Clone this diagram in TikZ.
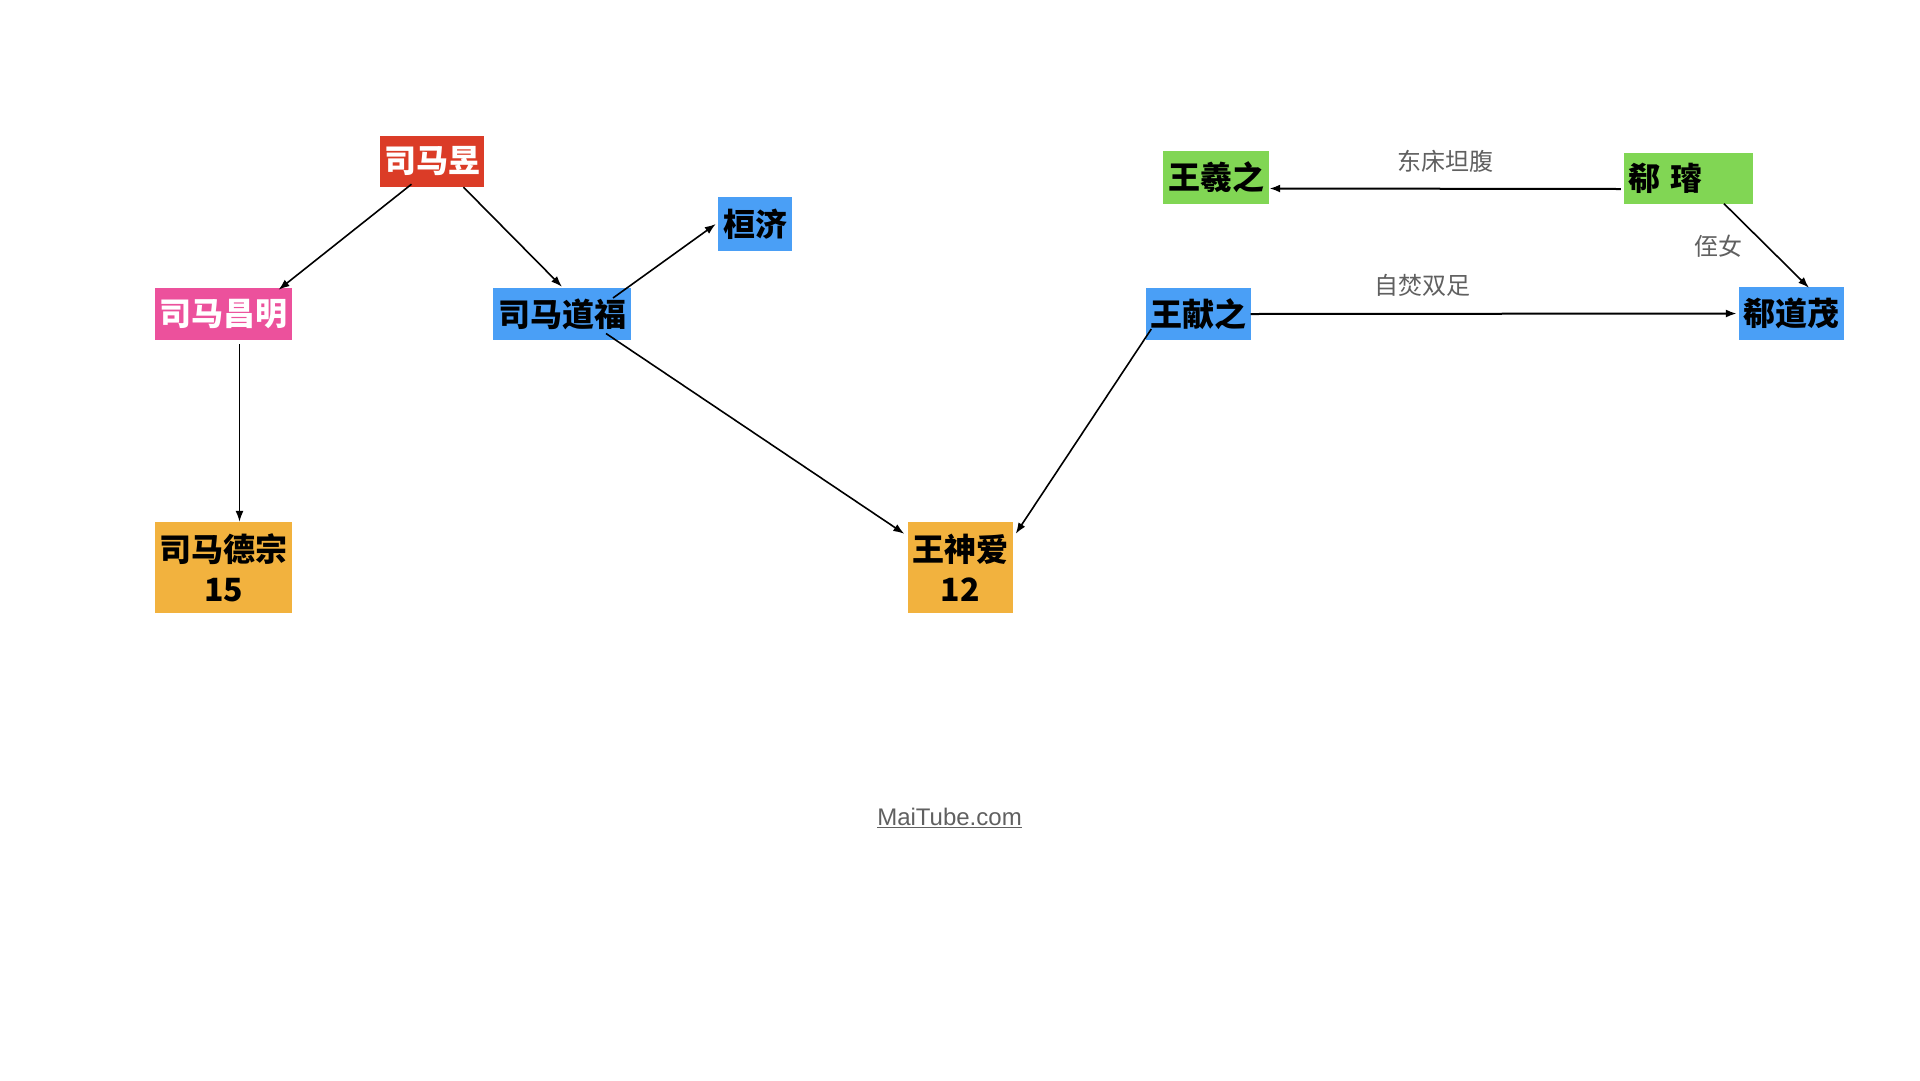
\documentclass[tikz,border=0pt]{standalone}
\usepackage{fontspec}
\setmainfont{Liberation Sans}
\newfontfamily\cjk{Noto Sans CJK SC}
\usepackage{xcolor}
\usetikzlibrary{arrows.meta}
\definecolor{boxred}{HTML}{DB3C27}
\definecolor{boxpink}{HTML}{EC519C}
\definecolor{boxblue}{HTML}{4A9FF6}
\definecolor{boxorange}{HTML}{F2B23E}
\definecolor{boxgreen}{HTML}{81D654}
\definecolor{notegray}{HTML}{606060}

\begin{document}
\begin{tikzpicture}[x=1pt,y=-1pt,
	person/.style={inner sep=0pt, align=center, font=\cjk\bfseries\fontsize{32}{40}\selectfont},
	link/.style={-{Latex[length=11pt,width=8pt]}, line width=1.6pt},
	note/.style={font=\cjk\fontsize{24}{28}\selectfont, text=notegray}]
	\useasboundingbox (0,0) rectangle (1920,1080);

	\node[person, fill=boxred, text=white, minimum width=104pt, minimum height=51pt] (yu) at (432,161.5) {司马昱};
	\node[person, fill=boxpink, text=white, minimum width=137pt, minimum height=52pt] (changming) at (223.5,314) {司马昌明};
	\node[person, fill=boxblue, minimum width=138pt, minimum height=52pt] (daofu) at (562,314) {司马道福};
	\node[person, fill=boxblue, minimum width=74pt, minimum height=54pt] (huanji) at (755,224) {桓济};
	\node[person, fill=boxorange, minimum width=137pt, minimum height=91pt] (desong) at (223.5,567.5) {司马德宗\\15};
	\node[person, fill=boxorange, minimum width=105pt, minimum height=91pt] (shenai) at (960,567.5) {王神爱\\12};
	\node[person, fill=boxgreen, minimum width=106pt, minimum height=53pt] (xizhi) at (1216,177.5) {王羲之};
	\node[person, fill=boxgreen, text width=121pt, align=left, inner xsep=4pt, minimum height=51pt] (xuan) at (1688.5,178) {郗 璿};
	\node[person, fill=boxblue, minimum width=105pt, minimum height=52pt] (xianzhi) at (1198,314) {王献之};
	\node[person, fill=boxblue, minimum width=105pt, minimum height=53pt] (daomao) at (1791.5,313.5) {郗道茂};

	\draw[link] ([xshift=-20.5pt,yshift=3pt]yu.south) -- ([xshift=55pt,yshift=-2pt]changming.north);
	\draw[link] ([xshift=31.5pt]yu.south) -- ([yshift=1pt]daofu.north);
	\draw[link] ([xshift=51pt,yshift=16pt]daofu.center) -- ([xshift=-2pt]huanji.west);
	\draw[link] ([xshift=44pt,yshift=-19.5pt]daofu.center) -- ([xshift=-3pt,yshift=-12pt]shenai.north west);
	\draw[link] ([xshift=16pt,yshift=-4pt]changming.south) -- ([xshift=16pt]desong.north);
	\draw[link] ([xshift=6pt,yshift=-15pt]xianzhi.west) -- ([xshift=3pt,yshift=-12pt]shenai.north east);
	\draw[link, line width=2pt] (xianzhi.east) -- node[note, pos=0.353, yshift=28pt] (burn) {自焚双足} ([xshift=-2pt]daomao.west);
	\draw[link, line width=2pt] ([xshift=-3pt,yshift=-11pt]xuan.west) -- node[note, midway, yshift=27pt] (bed) {东床坦腹} ([yshift=-11pt]xizhi.east);
	\draw[link] ([xshift=35.5pt]xuan.south) -- node[note, midway, xshift=-48.5pt] (niece) {侄女} ([xshift=17.5pt,yshift=-1pt]daomao.north);

	\node[text=notegray, font=\fontsize{24}{28}\selectfont] (site) at (949.5,818) {\underline{MaiTube.com}};
\end{tikzpicture}
\end{document}
